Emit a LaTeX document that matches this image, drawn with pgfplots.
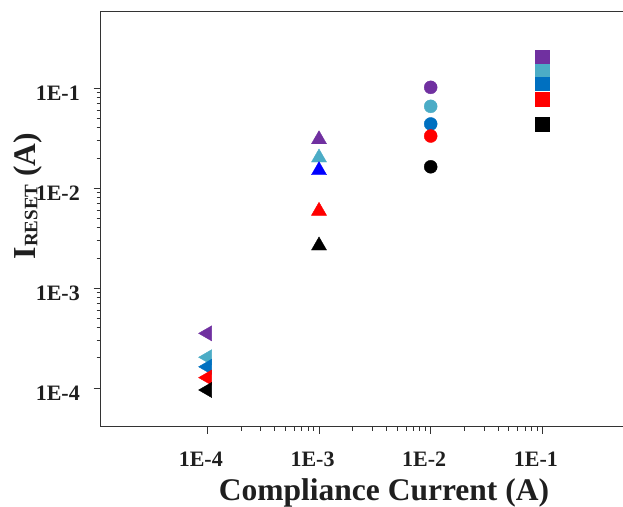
\documentclass[border=0pt]{standalone}
\usepackage{fontspec}
\setmainfont{Liberation Serif}
\usepackage{pgfplots}
\pgfplotsset{compat=1.18}
\definecolor{cpurple}{HTML}{7030A0}
\definecolor{clblue}{HTML}{4BACC6}
\definecolor{cblue}{HTML}{0070C0}
\definecolor{cred}{HTML}{FF0000}
\definecolor{ckblue}{HTML}{0000FF}

\pgfplotsset{
  grp/.style={only marks, scatter, scatter src=explicit symbolic,
    scatter/classes={p={cpurple}, l={clblue}, b={cblue}, r={cred}, k={black}, u={ckblue}}},
}

\begin{document}
\begin{tikzpicture}
\begin{axis}[
  name=main,
  scale only axis, width=522.3pt, height=415.7pt,
  xmode=log, ymode=log,
  xmin=1.11e-5, xmax=0.527,
  ymin=4.1e-5, ymax=0.589,
  axis x line*=bottom, axis y line*=left,
  axis line style={black!80, line width=1pt, -},
  tick align=outside,
  major tick length=7pt, minor tick length=4pt,
  every tick/.style={black!80, line width=0.8pt},
  xtick={1e-4,1e-3,1e-2,1e-1},
  xticklabels={\textbf{1E-4},\textbf{1E-3},\textbf{1E-2},\textbf{1E-1}},
  ytick={1e-4,1e-3,1e-2,1e-1},
  yticklabels={\textbf{1E-4},\textbf{1E-3},\textbf{1E-2},\textbf{1E-1}},
  ticklabel style={font=\fontsize{22}{26}\selectfont\bfseries, text=black!88, inner sep=0pt},
  xticklabel style={anchor=base, yshift=-32.3pt, xshift=-6.5pt},
  yticklabel style={anchor=east, xshift=-13.7pt, yshift=-5pt},
  xlabel={\textbf{Compliance Current (A)}},
  xlabel style={font=\fontsize{31.5}{36}\selectfont, text=black!88, inner sep=0pt,
    at={(axis description cs:0.5424,0)}, anchor=base, yshift=-73.3pt},
  ylabel={\textbf{{\fontsize{32}{36}\selectfont I}\raisebox{-1.5pt}{\fontsize{19}{22}\selectfont RESET}\fontsize{31.5}{36}\selectfont\ (A)}},
  ylabel style={text=black!88, inner sep=0pt,
    at={(axis description cs:-0.1239,0.555)}, anchor=base},
]
% 1E-4: left-pointing triangles
\addplot[grp, mark=triangle*, mark size=8.7pt, mark options={rotate=90}] table[x=x, y=y, meta=c, row sep=\\] {
x y c \\
1e-4 3.52e-4 p \\
1e-4 2.03e-4 l \\
1e-4 1.63e-4 b \\
1e-4 1.27e-4 r \\
1e-4 9.55e-5 k \\
};
% 1E-3: up triangles
\addplot[grp, mark=triangle*, mark size=8.7pt] table[x=x, y=y, meta=c, row sep=\\] {
x y c \\
1e-3 0.0306 p \\
1e-3 0.0201 l \\
1e-3 0.0150 u \\
1e-3 0.00589 r \\
1e-3 0.00265 k \\
};
% 1E-2: circles
\addplot[grp, mark=*, mark size=6.5pt] table[x=x, y=y, meta=c, row sep=\\] {
x y c \\
1e-2 0.1016 p \\
1e-2 0.0656 l \\
1e-2 0.0437 b \\
1e-2 0.0331 r \\
1e-2 0.0163 k \\
};
% 1E-1: squares
\addplot[grp, mark=square*, mark size=6.75pt] table[x=x, y=y, meta=c, row sep=\\] {
x y c \\
1e-1 0.203 p \\
1e-1 0.148 l \\
1e-1 0.111 b \\
1e-1 0.077 r \\
1e-1 0.0434 k \\
};
\draw[black!80, line width=1pt] (axis description cs:0,1) -- (axis description cs:1,1);
\end{axis}
\pgfresetboundingbox
\path ([shift={(-100.7pt,-79.3pt)}]main.south west) rectangle ([shift={(0pt,11pt)}]main.north east);
\end{tikzpicture}
\end{document}
